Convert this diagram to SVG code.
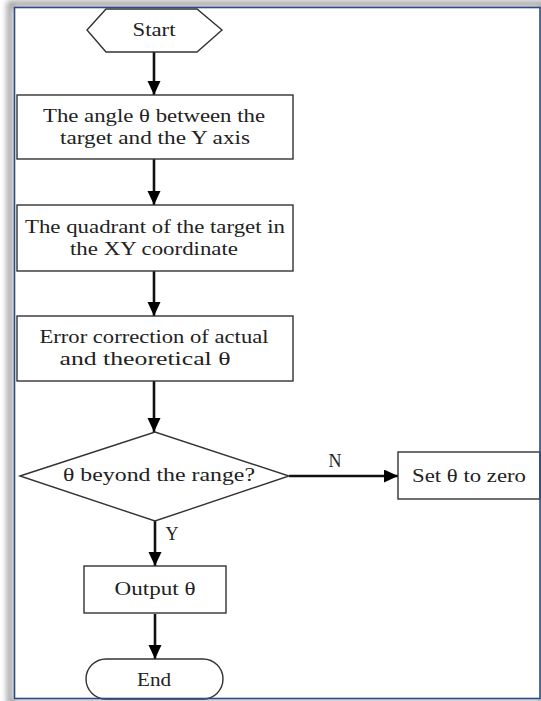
<svg xmlns="http://www.w3.org/2000/svg" width="541" height="701" viewBox="0 0 541 701">
<defs>
<filter id="sh" x="-5%" y="-5%" width="110%" height="110%">
<feGaussianBlur stdDeviation="3"/>
</filter>
<marker id="ah" markerUnits="userSpaceOnUse" markerWidth="14" markerHeight="14" refX="14" refY="6.5" orient="auto">
<path d="M0,0 L14,6.5 L0,13 Z" fill="#000"/>
</marker>
</defs>
<style>
.n{fill:#fff;stroke:#333;stroke-width:1.4}
.t{font-family:"Liberation Serif","Times New Roman",serif;font-size:18px;fill:#222;text-anchor:middle}
.c{stroke:#111;stroke-width:2.6;fill:none;marker-end:url(#ah)}
</style>
<rect width="541" height="701" fill="#fff"/>
<rect x="10" y="4" width="534" height="700" fill="none" stroke="#888" stroke-width="5" filter="url(#sh)"/>
<rect x="14.5" y="7.5" width="525.5" height="691" fill="#fff"/>
<g id="connectors">
<line class="c" x1="154" y1="52" x2="154" y2="95"/>
<line class="c" x1="154" y1="159" x2="154" y2="205"/>
<line class="c" x1="154" y1="271" x2="154" y2="316"/>
<line class="c" x1="154" y1="381" x2="154" y2="432"/>
<line class="c" x1="155" y1="521" x2="155" y2="566"/>
<line class="c" x1="155" y1="614" x2="155" y2="659"/>
<line class="c" x1="289" y1="476" x2="398" y2="476"/>
<text class="t" x="335" y="467" textLength="13" lengthAdjust="spacingAndGlyphs">N</text>
<text class="t" x="172" y="540" textLength="13" lengthAdjust="spacingAndGlyphs">Y</text>
</g>
<g id="start">
<polygon class="n" points="87,30 106,9 197,9 222,30 197,52 106,52"/>
<text class="t" x="154" y="36" textLength="43" lengthAdjust="spacingAndGlyphs">Start</text>
</g>
<g id="angle">
<rect class="n" x="17" y="95" width="276" height="64"/>
<text class="t" x="154" y="122" textLength="222" lengthAdjust="spacingAndGlyphs">The angle θ between the</text>
<text class="t" x="155" y="144" textLength="190" lengthAdjust="spacingAndGlyphs">target and the Y axis</text>
</g>
<g id="quadrant">
<rect class="n" x="17" y="205" width="276" height="66"/>
<text class="t" x="155" y="233" textLength="260" lengthAdjust="spacingAndGlyphs">The quadrant of the target in</text>
<text class="t" x="154" y="255" textLength="168" lengthAdjust="spacingAndGlyphs">the XY coordinate</text>
</g>
<g id="correction">
<rect class="n" x="17" y="316" width="276" height="65"/>
<text class="t" x="154" y="343" textLength="229" lengthAdjust="spacingAndGlyphs">Error correction of actual</text>
<text class="t" x="145" y="365" textLength="171" lengthAdjust="spacingAndGlyphs">and theoretical θ</text>
</g>
<g id="decision">
<polygon class="n" points="20,476 155,432 289,476 155,521"/>
<text class="t" x="159" y="481" textLength="192" lengthAdjust="spacingAndGlyphs">θ beyond the range?</text>
</g>
<g id="setzero">
<rect class="n" x="398" y="452" width="142" height="47"/>
<text class="t" x="469" y="482" textLength="114" lengthAdjust="spacingAndGlyphs">Set θ to zero</text>
</g>
<g id="output">
<rect class="n" x="84" y="566" width="142" height="47"/>
<text class="t" x="155" y="595" textLength="81" lengthAdjust="spacingAndGlyphs">Output θ</text>
</g>
<g id="end">
<rect class="n" x="86" y="659" width="137" height="40" rx="20" ry="20"/>
<text class="t" x="154" y="686" textLength="34" lengthAdjust="spacingAndGlyphs">End</text>
</g>
<rect x="14.5" y="7.5" width="525.5" height="691" fill="none" stroke="#2c4a86" stroke-width="1.6"/>
</svg>
